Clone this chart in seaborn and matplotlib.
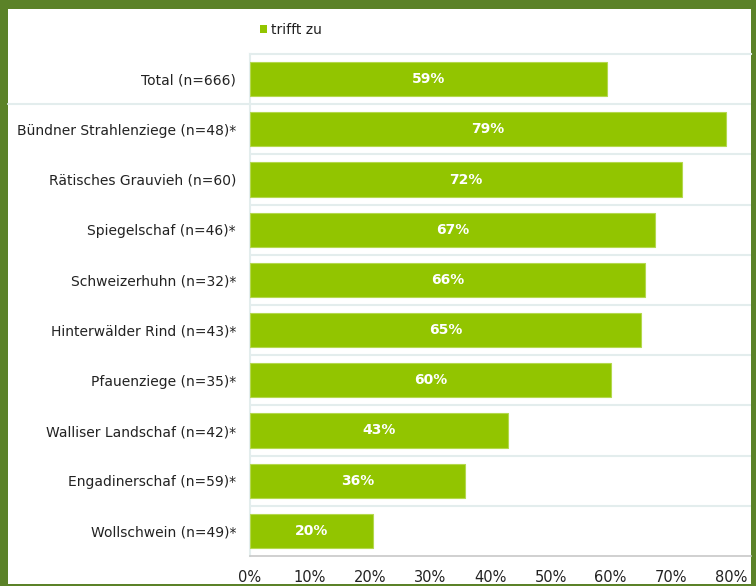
import pandas as pd
import matplotlib.pyplot as plt
import matplotlib.transforms as mtransforms
from matplotlib.patches import Rectangle
import seaborn as sns

# Data
categories = ['Total (n=666)', 'Bündner Strahlenziege (n=48)*', 'Rätisches Grauvieh (n=60)',
              'Spiegelschaf (n=46)*', 'Schweizerhuhn (n=32)*', 'Hinterwälder Rind (n=43)*',
              'Pfauenziege (n=35)*', 'Walliser Landschaf (n=42)*', 'Engadinerschaf (n=59)*',
              'Wollschwein (n=49)*']
values = [59.4, 79.2, 71.8, 67.4, 65.7, 65.1, 60.1, 42.9, 35.7, 20.4]
xticks = [0, 10, 20, 30, 40, 50, 60, 70, 80]
series_name = 'trifft zu'

df = pd.DataFrame({'category': categories, 'value': values})

W, H = 756, 586
bar_color = '#92c500'
border = '#5b8228'
grid_color = '#e3eded'

sns.set_style('white')
plt.rcParams['font.family'] = ['DejaVu Sans']

fig = plt.figure(figsize=(W / 100, H / 100), dpi=100)
fig.patch.set_facecolor(border)
# white panel inside the green frame
fig.add_artist(Rectangle((8 / W, 2 / H), (751 - 8) / W, (584 - 9) / H,
                         transform=fig.transFigure, facecolor='white', edgecolor='none', zorder=0))

ax = fig.add_axes([250 / W, (H - 556) / H, (751 - 250) / W, 502 / H])
ax.set_facecolor('none')

sns.barplot(data=df, x='value', y='category', orient='h', color=bar_color, saturation=1,
            width=0.68, edgecolor='#b4d84e', linewidth=0.8, ax=ax, zorder=3)

# value labels centred in the bars
for i, v in enumerate(values):
    ax.text(v / 2, i, f'{round(v)}%', ha='center', va='center', color='white',
            fontsize=10, fontweight='bold', zorder=4)

ax.set_xlim(0, (751 - 250) / 6.01)
ax.set_ylim(len(categories) - 0.5, -0.5)
ax.set_xticks(xticks)
ax.set_xticklabels([f'{t}%' for t in xticks], fontsize=10.5, color='#222222')
ax.tick_params(axis='x', length=4, width=1, color='#c8c8c8', pad=6)
ax.tick_params(axis='y', length=0, pad=10, labelsize=10, labelcolor='#222222')
ax.set_xlabel('')
ax.set_ylabel('')

# row separators
for k in range(len(categories) - 1):
    ax.axhline(k + 0.5, color=grid_color, lw=1.5, zorder=1)
# the separator below "Total" runs across the label area too
trans = mtransforms.blended_transform_factory(fig.transFigure, ax.transData)
ax.plot([8 / W, 250 / W], [0.5, 0.5], color=grid_color, lw=1.5, transform=trans, clip_on=False)

for side in ['top', 'left']:
    ax.spines[side].set_color(grid_color)
    ax.spines[side].set_linewidth(1.5)
ax.spines['right'].set_visible(False)
ax.spines['bottom'].set_color('#c8c8c8')
ax.spines['bottom'].set_linewidth(1.2)

# legend
handle = Rectangle((0, 0), 1, 1, facecolor=bar_color, edgecolor='none')
fig.legend([handle], [series_name], loc='center left', bbox_to_anchor=(260 / W, 1 - 30 / H),
           frameon=False, fontsize=10, handlelength=0.5, handleheight=0.5,
           handletextpad=0.3, borderpad=0, borderaxespad=0, labelcolor='#222222')

plt.savefig('out.png', dpi=100, facecolor=fig.get_facecolor())
